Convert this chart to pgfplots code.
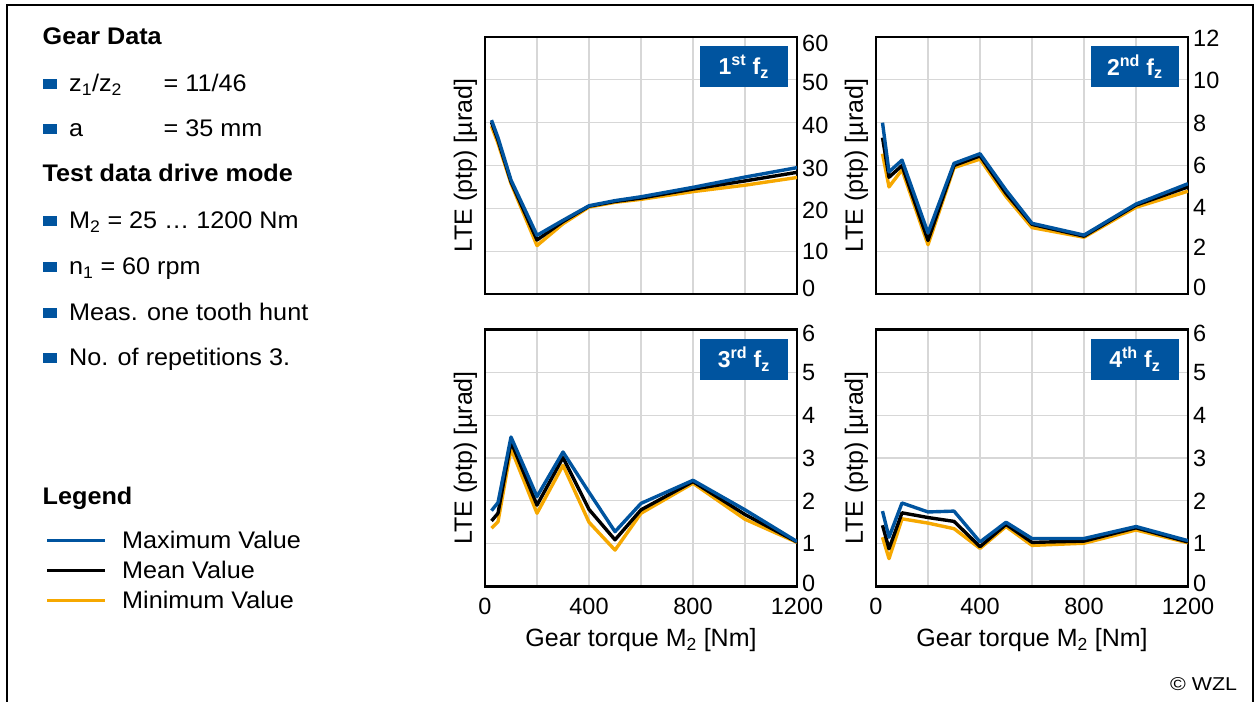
\documentclass[border=0pt]{standalone}
\usepackage{pgfplots}
\pgfplotsset{compat=1.18}
\usepackage{fontspec}
\setmainfont{Liberation Sans}
\newfontfamily\panelfont[FakeStretch=1.05]{Liberation Sans}
\newfontfamily\notefont[FakeStretch=1.15]{Liberation Sans}

\definecolor{wzlblue}{RGB}{0,84,159}
\definecolor{wzlorange}{RGB}{246,168,0}
\definecolor{gridgray}{RGB}{215,215,215}

\newcommand{\paneltext}{\panelfont\fontsize{24bp}{28bp}\selectfont}
% square bullet, its lower edge 2.4bp above the given baseline
\newcommand{\bulletat}[1]{\fill[wzlblue] (42.5bp,#1bp+2.4bp) rectangle (56.5bp,#1bp+12.4bp);}

\tikzset{
  fzbox/.style={fill=wzlblue, text=white, inner sep=0pt,
    font=\bfseries\fontsize{23bp}{26bp}\selectfont,
    minimum width=88bp, minimum height=41bp,
    anchor=north east, xshift=-9bp, yshift=-9bp},
  row/.style={anchor=base west, inner sep=0pt, font=\paneltext},
}

\pgfplotsset{
  ltebase/.style={
    scale only axis, width=312bp, height=257bp,
    xmin=0, xmax=1200, ymin=0,
    xtick={0,200,...,1200},
    grid=major,
    major grid style={draw=gridgray, line width=1.3bp},
    axis line style={draw=black, line width=2.2bp},
    major tick length=0pt,
    yticklabel pos=right,
    tick label style={font=\fontsize{23.5bp}{28bp}\selectfont},
    /pgf/number format/assume math mode=true,
    xticklabel style={inner sep=0pt, anchor=north, yshift=-11bp},
    ylabel={LTE (ptp) [µrad]},
    ylabel style={font=\fontsize{25bp}{30bp}\selectfont,
      at={(axis description cs:-0.025,0.5)}, anchor=south, inner sep=0pt},
    every axis plot/.append style={line width=3.4bp, mark=none, line join=round},
  },
  ltetop/.style={ltebase, xticklabels={}},
  ltebottom/.style={ltebase,
    xticklabels={0,,400,,800,,1200},
    xlabel={Gear torque M\textsubscript{2} [Nm]},
    xlabel style={font=\fontsize{25bp}{30bp}\selectfont,
      at={(axis description cs:0.5,0)}, anchor=north, yshift=-42bp, inner sep=0pt},
    ymax=6, ytick={0,1,...,6},
    yticklabel style={anchor=west, inner sep=0pt, xshift=5bp,
      yshift={{3,0,0,0,0,0,-3.5}[\ticknum]*1bp}},
  },
}

\begin{document}
\begin{tikzpicture}
\useasboundingbox (0,0) rectangle (1256bp,702bp);

% outer frame, open at the bottom
\draw[line width=2.5bp] (7bp,0) -- (7bp,697bp) -- (1253bp,697bp) -- (1253bp,0);

% ---------- gear and test data ----------
\node[row] at (42.5bp,657.5bp) {\bfseries Gear Data};
\foreach \yb in {610.5,565.5,473.5,427.5,381.5,336.5} {\bulletat{\yb}}
\node[row] at (69bp,610.5bp) {z\textsubscript{1}/z\textsubscript{2}};
\node[row] at (163.5bp,610.5bp) {= 11/46};
\node[row] at (69bp,565.5bp) {a};
\node[row] at (163.5bp,565.5bp) {= 35 mm};
\node[row] at (42.5bp,520.5bp) {\bfseries Test data drive mode};
\node[row] at (69bp,473.5bp) {M\textsubscript{2} = 25 … 1200 Nm};
\node[row] at (69bp,427.5bp) {n\textsubscript{1} = 60 rpm};
\node[row] at (69bp,381.5bp) {Meas. one tooth hunt};
\node[row] at (69bp,336.5bp) {No. of repetitions 3.};

% ---------- legend ----------
\node[row] at (42.5bp,197.5bp) {\bfseries Legend};
\draw[wzlblue, line width=3bp] (47bp,161bp) -- (105bp,161bp);
\draw[black, line width=3bp] (47bp,131bp) -- (105bp,131bp);
\draw[wzlorange, line width=3bp] (47bp,101bp) -- (105bp,101bp);
\node[row] at (122bp,153.5bp) {Maximum Value};
\node[row] at (122bp,123.5bp) {Mean Value};
\node[row] at (122bp,93.5bp) {Minimum Value};

\node[anchor=base west, inner sep=0pt] at (1170bp,12bp)
  {\notefont\fontsize{18.6bp}{22bp}\selectfont © WZL};

% ---------- 1st tooth mesh order ----------
\begin{axis}[ltetop, at={(485bp,408bp)}, anchor=south west,
  ymax=60, ytick={0,10,...,60},
  yticklabel style={anchor=west, inner sep=0pt, xshift=5bp,
    yshift={{5.3,-0.7,-1.7,-2.6,-2.3,-2.4,-6.5}[\ticknum]*1bp}}]
\addplot[wzlorange] coordinates {(25,39.2) (50,35.2) (100,25.8) (200,11.3) (300,16.4) (400,20.3) (500,21.4) (600,22.1) (800,23.9) (1000,25.4) (1200,27.2)};
\addplot[black] coordinates {(25,40.1) (50,35.9) (100,26.2) (200,12.6) (300,16.9) (400,20.5) (500,21.6) (600,22.4) (800,24.5) (1000,26.4) (1200,28.4)};
\addplot[wzlblue] coordinates {(25,40.6) (50,36.5) (100,26.6) (200,13.7) (300,17.2) (400,20.6) (500,21.8) (600,22.7) (800,24.9) (1000,27.3) (1200,29.5)};
\node[fzbox] at (rel axis cs:1,1) {1\textsuperscript{st} f\textsubscript{z}};
\end{axis}

% ---------- 2nd tooth mesh order ----------
\begin{axis}[ltetop, at={(876bp,408bp)}, anchor=south west,
  ymax=12, ytick={0,2,...,12},
  yticklabel style={anchor=west, inner sep=0pt, xshift=5bp,
    yshift={{6.5,4.3,0.8,0,-0.6,-0.3,-1.3}[\ticknum]*1bp}}]
\addplot[wzlorange] coordinates {(25,6.55) (50,5.0) (100,5.8) (200,2.3) (300,5.9) (400,6.3) (500,4.55) (600,3.1) (800,2.65) (1000,4.05) (1200,4.8)};
\addplot[black] coordinates {(25,7.3) (50,5.45) (100,6.0) (200,2.5) (300,6.0) (400,6.45) (500,4.7) (600,3.25) (800,2.7) (1000,4.15) (1200,5.0)};
\addplot[wzlblue] coordinates {(25,8.0) (50,5.7) (100,6.25) (200,2.85) (300,6.1) (400,6.55) (500,4.85) (600,3.3) (800,2.75) (1000,4.2) (1200,5.15)};
\node[fzbox] at (rel axis cs:1,1) {2\textsuperscript{nd} f\textsubscript{z}};
\end{axis}

% ---------- 3rd tooth mesh order ----------
\begin{axis}[ltebottom, at={(485bp,115.5bp)}, anchor=south west]
\addplot[wzlorange] coordinates {(25,1.36) (50,1.51) (100,3.22) (200,1.71) (300,2.83) (400,1.5) (500,0.85) (600,1.71) (800,2.41) (1000,1.57) (1200,1.03)};
\addplot[black] coordinates {(25,1.53) (50,1.71) (100,3.38) (200,1.90) (300,3.01) (400,1.8) (500,1.09) (600,1.79) (800,2.45) (1000,1.68) (1200,1.04)};
\addplot[wzlblue] coordinates {(25,1.77) (50,1.96) (100,3.49) (200,2.10) (300,3.14) (400,2.2) (500,1.28) (600,1.94) (800,2.48) (1000,1.79) (1200,1.05)};
\node[fzbox] at (rel axis cs:1,1) {3\textsuperscript{rd} f\textsubscript{z}};
\end{axis}

% ---------- 4th tooth mesh order ----------
\begin{axis}[ltebottom, at={(876bp,115.5bp)}, anchor=south west]
\addplot[wzlorange] coordinates {(25,1.15) (50,0.65) (100,1.58) (200,1.48) (300,1.35) (400,0.89) (500,1.40) (600,0.96) (800,1.01) (1000,1.32) (1200,1.02)};
\addplot[black] coordinates {(25,1.43) (50,0.88) (100,1.72) (200,1.61) (300,1.52) (400,0.93) (500,1.45) (600,1.03) (800,1.06) (1000,1.37) (1200,1.04)};
\addplot[wzlblue] coordinates {(25,1.76) (50,1.15) (100,1.95) (200,1.74) (300,1.76) (400,1.04) (500,1.50) (600,1.12) (800,1.12) (1000,1.40) (1200,1.07)};
\node[fzbox] at (rel axis cs:1,1) {4\textsuperscript{th} f\textsubscript{z}};
\end{axis}
\end{tikzpicture}
\end{document}
